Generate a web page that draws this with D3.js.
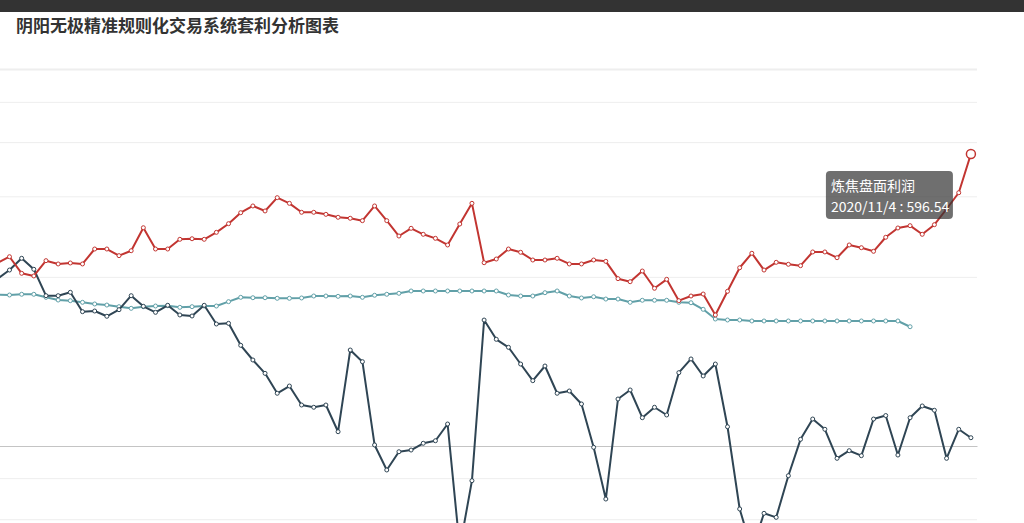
<!DOCTYPE html>
<html>
<head>
<meta charset="utf-8">
<script src="https://cdn.jsdelivr.net/npm/d3@7.9.0/dist/d3.min.js"></script>
<style>
  body { margin: 0; background: #fff; overflow: hidden; }
  svg { display: block; font-family: "Noto Sans CJK SC", "Noto Sans", sans-serif; }
  .grid line { stroke: #eeeeee; }
  .grid .domain { display: none; }
</style>
</head>
<body>
<svg id="chart" width="1024" height="523"></svg>
<script>
// trading days, 2020
const dates = [
  '2020/7/7','2020/7/8','2020/7/9','2020/7/10','2020/7/13','2020/7/14','2020/7/15','2020/7/16','2020/7/17','2020/7/20',
  '2020/7/21','2020/7/22','2020/7/23','2020/7/24','2020/7/27','2020/7/28','2020/7/29','2020/7/30','2020/7/31','2020/8/3',
  '2020/8/4','2020/8/5','2020/8/6','2020/8/7','2020/8/10','2020/8/11','2020/8/12','2020/8/13','2020/8/14','2020/8/17',
  '2020/8/18','2020/8/19','2020/8/20','2020/8/21','2020/8/24','2020/8/25','2020/8/26','2020/8/27','2020/8/28','2020/8/31',
  '2020/9/1','2020/9/2','2020/9/3','2020/9/4','2020/9/7','2020/9/8','2020/9/9','2020/9/10','2020/9/11','2020/9/14',
  '2020/9/15','2020/9/16','2020/9/17','2020/9/18','2020/9/21','2020/9/22','2020/9/23','2020/9/24','2020/9/25','2020/9/28',
  '2020/9/29','2020/9/30','2020/10/9','2020/10/12','2020/10/13','2020/10/14','2020/10/15','2020/10/16','2020/10/19','2020/10/20',
  '2020/10/21','2020/10/22','2020/10/23','2020/10/26','2020/10/27','2020/10/28','2020/10/29','2020/10/30','2020/11/2','2020/11/3',
  '2020/11/4'
];

// 炼焦盘面利润
const cokingProfit = [
  463.9, 471.5, 451.3, 448.1, 466.7, 462.7, 463.9, 462.7, 480.9, 480.9,
  472.8, 478.8, 506.8, 480.9, 480.9, 492.7, 493.4, 492.7, 501.2, 511.7,
  525.1, 533.3, 527.2, 543.4, 536.5, 525.6, 525.6, 523.1, 519.5, 518.3,
  515.4, 533.3, 515.4, 496.7, 506.1, 498.8, 493.9, 485.8, 511.3, 536.5,
  464.2, 468.7, 480.9, 476.9, 467.5, 467.5, 469.6, 462.7, 462.7, 467.5,
  465.9, 444.8, 441.1, 454.1, 433.1, 444.0, 418.0, 423.7, 426.1, 400.6,
  429.4, 458.1, 475.7, 455.3, 464.7, 462.3, 460.6, 477.3, 477.3, 470.3,
  485.8, 482.5, 478.1, 495.2, 506.5, 509.3, 498.8, 510.5, 529.6, 549.4,
  596.54
];

// second series (right axis)
const spread = [
  177.7, 187.2, 199.7, 188.0, 159.9, 159.9, 163.5, 142.9, 143.6, 138.0,
  145.0, 159.9, 148.6, 142.2, 149.7, 139.4, 138.3, 149.7, 129.8, 130.5,
  107.1, 91.5, 77.3, 56.1, 63.8, 43.6, 41.2, 43.6, 15.2, 102.1,
  89.7, 1.1, -25.5, -6.1, -4.3, 2.9, 5.6, 23.4, -108.5, -36.9,
  134.0, 113.5, 105.0, 87.2, 69.5, 85.1, 56.1, 58.5, 44.7, -1.4,
  -56.4, 50.0, 59.6, 30.1, 41.2, 33.0, 78.0, 92.6, 74.5, 87.2,
  20.5, -67.0, -110.6, -71.6, -75.9, -31.6, 7.1, 28.7, 17.8, -13.1,
  -5.0, -10.3, 28.7, 32.4, -9.6, 30.1, 42.6, 38.0, -13.1, 17.8,
  8.8
];

// third series (left axis), stops before the last days
const baseLine = [
  425.5, 424.9, 425.8, 425.8, 422.1, 418.8, 418.0, 416.0, 414.0, 412.7,
  410.7, 408.7, 410.7, 411.5, 411.9, 409.9, 410.7, 411.5, 411.5, 416.8,
  422.1, 421.6, 421.6, 420.9, 420.9, 421.3, 423.7, 423.7, 423.3, 423.7,
  422.1, 424.6, 425.8, 427.0, 429.8, 429.8, 429.8, 429.8, 429.8, 429.8,
  429.8, 429.8, 424.9, 423.7, 423.7, 427.7, 429.8, 423.7, 421.3, 422.8,
  420.0, 420.0, 416.0, 418.5, 418.5, 418.5, 416.0, 415.5, 407.5, 395.7,
  394.5, 394.5, 393.3, 393.3, 393.3, 393.3, 393.3, 393.3, 393.3, 393.3,
  393.3, 393.3, 393.3, 393.3, 393.3, 386.3, null, null, null, null,
  null
];

const leftTicks = [700, 660, 611, 545, 447, 202, 152];
const leftDomain = [0, 700];
const rightDomain = [-200, 400];

const svg = d3.select('#chart');
const right = 977;
const step = 12.17;
const left = right - dates.length * step;

const x = d3.scaleBand().domain(dates).range([left, right]).padding(0);
const cx = d => x(d) + x.bandwidth() / 2;
const yLeft = d3.scaleLinear().domain(leftDomain).range([644.1, 69]);
const yRight = d3.scaleLinear().domain(rightDomain).range([634, 70]);

// page header strip
svg.append('rect').attr('x', 0).attr('y', 0).attr('width', 1024).attr('height', 12).attr('fill', '#333');

svg.append('text')
  .attr('x', 16).attr('y', 32)
  .attr('font-size', 17).attr('font-weight', 'bold').attr('fill', '#333')
  .text('阴阳无极精准规则化交易系统套利分析图表');

// split lines
const grid = svg.append('g')
  .attr('class', 'grid')
  .attr('transform', `translate(${left},0)`)
  .call(d3.axisLeft(yLeft).tickValues(leftTicks).tickSize(-(right - left)).tickFormat(''));
grid.selectAll('.tick').filter(d => d === leftDomain[1]).select('line')
  .attr('stroke', '#e2e2e2').attr('stroke-width', 2);

// x axis on zero
const xAxis = svg.append('g')
  .attr('transform', `translate(0,${yRight(0)})`)
  .call(d3.axisBottom(x).tickSize(0).tickSizeOuter(0).tickFormat(''));
xAxis.select('.domain').attr('stroke', '#c4c4c4');

function drawSeries(values, yScale, color) {
  const pts = dates.map((d, i) => ({ d, v: values[i] })).filter(p => p.v != null);
  svg.append('path')
    .datum(pts)
    .attr('fill', 'none')
    .attr('stroke', color)
    .attr('stroke-width', 2)
    .attr('stroke-linejoin', 'round')
    .attr('d', d3.line().x(p => cx(p.d)).y(p => yScale(p.v)));
  svg.append('g')
    .selectAll('circle')
    .data(pts)
    .join('circle')
      .attr('cx', p => cx(p.d))
      .attr('cy', p => yScale(p.v))
      .attr('r', 2)
      .attr('fill', '#fff')
      .attr('stroke', color)
      .attr('stroke-width', 1);
}

drawSeries(baseLine, yLeft, '#61a0a8');
drawSeries(spread, yRight, '#2f4554');
drawSeries(cokingProfit, yLeft, '#c23531');

// hovered point + tooltip
const last = dates.length - 1;
const hx = cx(dates[last]);
const hy = yLeft(cokingProfit[last]);
svg.append('circle')
  .attr('cx', hx).attr('cy', hy).attr('r', 4.5)
  .attr('fill', '#fff').attr('stroke', '#c23531').attr('stroke-width', 1.5);

const tip = svg.append('g').attr('transform', `translate(${hx - 145},${hy + 17})`);
tip.append('rect')
  .attr('width', 127).attr('height', 48).attr('rx', 4)
  .attr('fill', 'rgba(50,50,50,0.7)');
tip.append('text').attr('x', 5).attr('y', 20)
  .attr('font-size', 14).attr('fill', '#fff')
  .text('炼焦盘面利润');
tip.append('text').attr('x', 5).attr('y', 41)
  .attr('font-size', 14).attr('fill', '#fff')
  .text(`${dates[last]} : ${cokingProfit[last]}`);
</script>
</body>
</html>
